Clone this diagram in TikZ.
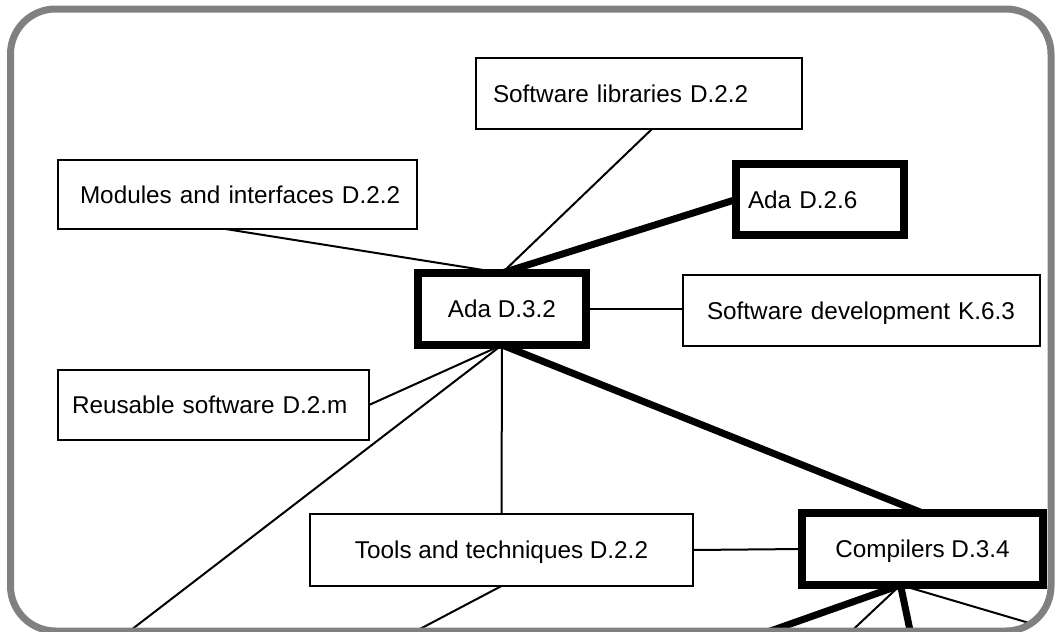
\documentclass[tikz,border=0pt]{standalone}
\usepackage{fontspec}
\setmainfont{Liberation Sans}
\usetikzlibrary{positioning}

\begin{document}
\begin{tikzpicture}[x=1pt,y=-1pt,
  box/.style={draw, line width=2.5pt, outer sep=0pt, anchor=north west, fill=white,
    font=\fontsize{24.3pt}{29pt}\selectfont, text height=17.4pt, text depth=0pt,
    execute at begin node={\hbox\bgroup}, execute at end node={\egroup}},
  boldbox/.style={box, line width=8pt},
  link/.style={line width=2pt},
  boldlink/.style={line width=7pt}]
\useasboundingbox (0,0) rectangle (1058,632);

% the boxes
\node[box, minimum width=326pt, minimum height=71pt, inner xsep=17pt, text width=292pt, align=left] (lib) at (476,58) {Software libraries D.2.2};
\node[box, minimum width=359pt, minimum height=69pt, inner xsep=22pt, text width=315pt, align=left] (mod) at (58,160) {Modules and interfaces D.2.2};
\node[boldbox, minimum width=168pt, minimum height=71pt, inner xsep=12pt, text width=144pt, align=left] (ada26) at (736,164) {Ada D.2.6};
\node[boldbox, minimum width=168pt, minimum height=72pt] (ada32) at (418,273) {Ada D.3.2};
\node[box, minimum width=357pt, minimum height=71pt, inner xsep=24pt, text width=309pt, align=left] (dev) at (683,275) {Software development K.6.3};
\node[box, minimum width=311pt, minimum height=70pt, inner xsep=14pt, text width=283pt, align=left] (reu) at (58,370) {Reusable software D.2.m};
\node[box, minimum width=383pt, minimum height=72pt] (tool) at (310,514) {Tools and techniques D.2.2};
\node[boldbox, minimum width=241pt, minimum height=72pt] (comp) at (802,513) {Compilers D.3.4};

% loose ends below the frame
\coordinate (sw) at (118,640);
\coordinate (t1) at (399,640);
\coordinate (c1) at (745,640);
\coordinate (c2) at (842,640);
\coordinate (c3) at (912,640);
\coordinate (c4) at (1080,638);

\begin{scope}
\clip[rounded corners=45pt] (10.5,9) rectangle (1051,631);
\draw[link] ([xshift=13pt]lib.south) -- (ada32.north);
\draw[link] ([xshift=-12pt]mod.south) -- (ada32.north);
\draw[boldlink] (ada26.west) -- (ada32.north);
\draw[link] (ada32.east) -- (ada32.east -| dev.west);
\draw[link] (ada32.south) -- (reu.east);
\draw[link] (ada32.south) -- (sw);
\draw[link] (ada32.south) -- (tool.north);
\draw[boldlink] (ada32.south) -- (comp.north);
\draw[link] (tool.east) -- (comp.west);
\draw[link] (tool.south) -- (t1);
\draw[boldlink] ([xshift=-22pt]comp.south) -- (c1);
\draw[link] ([xshift=-22pt]comp.south) -- (c2);
\draw[boldlink] ([xshift=-22pt]comp.south) -- (c3);
\draw[link] ([xshift=-22pt]comp.south) -- (c4);
\end{scope}

% frame
\draw[gray, line width=7pt, rounded corners=45pt] (10.5,9) rectangle (1051,631);
\end{tikzpicture}
\end{document}
